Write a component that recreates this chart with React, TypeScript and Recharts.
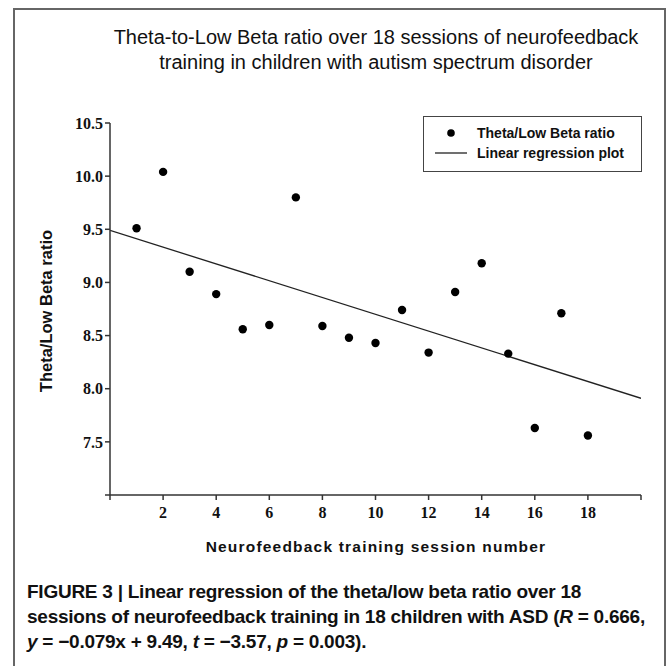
import {
  ComposedChart,
  Scatter,
  Line,
  XAxis,
  YAxis,
} from 'recharts'

const sessions = [1, 2, 3, 4, 5, 6, 7, 8, 9, 10, 11, 12, 13, 14, 15, 16, 17, 18]
const ratios = [9.51, 10.04, 9.1, 8.89, 8.56, 8.6, 9.8, 8.59, 8.48, 8.43, 8.74, 8.34, 8.91, 9.18, 8.33, 7.63, 8.71, 7.56]

// regression end points (y = -0.079x + 9.49)
const fitX = [0, 20]
const fitY = [9.49, 7.91]

const xTicks = [0, 2, 4, 6, 8, 10, 12, 14, 16, 18, 20]
const yTicks = [7, 7.5, 8, 8.5, 9, 9.5, 10, 10.5]

const titleLines = [
  'Theta-to-Low Beta ratio over 18 sessions of neurofeedback',
  'training in children with autism spectrum disorder',
]

const points = sessions.map((s, i) => ({ x: s, y: ratios[i] }))
const fitData = fitX.map((x, i) => ({ x, y: fitY[i] }))

const AXIS = '#333'
const SANS = '"Liberation Sans", Arial, sans-serif'
const SERIF = '"Liberation Serif", "Times New Roman", serif'

const Dot = (props: any) => {
  const { cx, cy } = props
  if (cx == null || cy == null) return null
  return <circle cx={cx} cy={cy} r={4.2} fill="#000" />
}

export default function App() {
  return (
    <div
      style={{
        position: 'absolute',
        left: 0,
        top: 0,
        width: 669,
        height: 666,
        background: '#fff',
        fontFamily: SANS,
        overflow: 'hidden',
      }}
    >
      {/* outer frame */}
      <div
        style={{
          position: 'absolute',
          left: 13,
          top: 8,
          width: 653,
          height: 670,
          border: '2px solid #666',
          boxSizing: 'border-box',
        }}
      />

      {/* title */}
      {titleLines.map((t, i) => (
        <div
          key={i}
          style={{
            position: 'absolute',
            left: 36,
            width: 680,
            top: 25 + i * 25,
            textAlign: 'center',
            fontSize: 20,
            color: '#111',
            lineHeight: '24px',
            whiteSpace: 'nowrap',
          }}
        >
          {t}
        </div>
      ))}

      <div style={{ position: 'absolute', left: 0, top: 0 }}>
        <ComposedChart
          width={669}
          height={666}
          margin={{ top: 123, right: 28, bottom: 141, left: 50 }}
        >
          <XAxis
            dataKey="x"
            type="number"
            domain={[0, 20]}
            ticks={xTicks}
            allowDataOverflow
            height={30}
            tickSize={5}
            tickFormatter={(v: number) => (v === 0 || v === 20 ? '' : String(v))}
            tick={{ fill: '#111', fontSize: 16, fontWeight: 700, fontFamily: SERIF, dy: 5 }}
            axisLine={{ stroke: AXIS, strokeWidth: 1.5 }}
            tickLine={{ stroke: AXIS, strokeWidth: 1.5 }}
          />
          <YAxis
            dataKey="y"
            type="number"
            domain={[7, 10.5]}
            ticks={yTicks}
            allowDataOverflow
            width={60}
            tickSize={5}
            tickFormatter={(v: number) => (v === 7 ? '' : v.toFixed(1))}
            tick={{ fill: '#111', fontSize: 16, fontWeight: 700, fontFamily: SERIF }}
            axisLine={{ stroke: AXIS, strokeWidth: 1.5 }}
            tickLine={{ stroke: AXIS, strokeWidth: 1.5 }}
          />
          <Line
            data={fitData}
            dataKey="y"
            type="linear"
            stroke="#222"
            strokeWidth={1.3}
            dot={false}
            activeDot={false}
            isAnimationActive={false}
          />
          <Scatter
            data={points}
            dataKey="y"
            fill="#000"
            shape={Dot}
            isAnimationActive={false}
          />
        </ComposedChart>
      </div>

      {/* axis titles */}
      <div
        style={{
          position: 'absolute',
          left: 46 - 100,
          top: 311 - 10,
          width: 200,
          height: 20,
          lineHeight: '20px',
          textAlign: 'center',
          transform: 'rotate(-90deg)',
          fontSize: 16.5,
          fontWeight: 700,
          color: '#111',
        }}
      >
        Theta/Low Beta ratio
      </div>
      <div
        style={{
          position: 'absolute',
          left: 126,
          width: 500,
          top: 537,
          textAlign: 'center',
          fontSize: 15.5,
          fontWeight: 700,
          letterSpacing: 1.2,
          color: '#111',
          lineHeight: '20px',
        }}
      >
        Neurofeedback training session number
      </div>

      {/* legend */}
      <div
        style={{
          position: 'absolute',
          left: 423,
          top: 116,
          width: 219,
          height: 56,
          border: '1.5px solid #444',
          boxSizing: 'border-box',
          fontSize: 14,
          fontWeight: 700,
          color: '#111',
          whiteSpace: 'nowrap',
        }}
      >
        <svg width={60} height={54} style={{ position: 'absolute', left: 0, top: 0 }}>
          <circle cx={27} cy={16} r={3.8} fill="#000" />
          <line x1={11} x2={43} y1={36} y2={36} stroke="#222" strokeWidth={1.3} />
        </svg>
        <div style={{ position: 'absolute', left: 53, top: 7, lineHeight: '18px' }}>
          Theta/Low Beta ratio
        </div>
        <div style={{ position: 'absolute', left: 53, top: 27, lineHeight: '18px' }}>
          Linear regression plot
        </div>
      </div>

      {/* caption */}
      <div
        style={{
          position: 'absolute',
          left: 27,
          top: 579,
          width: 640,
          fontSize: 19,
          fontWeight: 700,
          lineHeight: '25px',
          color: '#111',
          letterSpacing: -0.25,
          whiteSpace: 'nowrap',
        }}
      >
        FIGURE 3 | Linear regression of the theta/low beta ratio over 18
        <br />
        sessions of neurofeedback training in 18 children with ASD (<i>R</i> = 0.666,
        <br />
        <i>y</i> = −0.079x + 9.49, <i>t</i> = −3.57, <i>p</i> = 0.003).
      </div>
    </div>
  )
}
